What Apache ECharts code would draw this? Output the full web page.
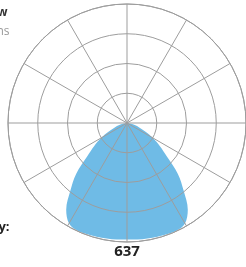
<!DOCTYPE html>
<html>
<head>
<meta charset="utf-8">
<script src="https://cdn.jsdelivr.net/npm/echarts@6/dist/echarts.min.js"></script>
<style>html,body{margin:0;padding:0;background:#fff;}#c{width:246px;height:267px;}</style>
</head>
<body>
<div id="c"></div>
<script>
// Angles (degrees from straight down) and intensity (cd)
const angles = [0, 5, 10, 15, 20, 25, 30, 35, 40, 45, 50, 55, 60, 65, 70, 75, 80, 85, 90];
const intensity = [627, 629, 631, 633, 636, 637, 624, 570, 473, 387, 280, 215, 161, 108, 70, 43, 22, 8, 0];
const peakLabel = '637';
const titleText = 'View';
const unitText = 'Lumens';
const intensityText = 'Intensity:';

const data = [];
for (let i = angles.length - 1; i >= 0; i--) data.push([intensity[i], -angles[i]]);
for (let i = 1; i < angles.length; i++) data.push([intensity[i], angles[i]]);

const chart = echarts.init(document.getElementById('c'), null, {renderer: 'canvas'});
const grid = '#9d9d9d';
chart.setOption({
  animation: false,
  polar: {center: [127, 123], radius: 119},
  angleAxis: {
    type: 'value', min: -180, max: 180, interval: 30, startAngle: 90, z: 10,
    axisLine: {show: true, lineStyle: {color: grid, width: 1}},
    axisTick: {show: false}, axisLabel: {show: false},
    splitLine: {show: true, lineStyle: {color: grid, width: 1}}
  },
  radiusAxis: {
    type: 'value', min: 0, max: 640, interval: 160, z: 10,
    axisLine: {show: false}, axisTick: {show: false}, axisLabel: {show: false},
    splitLine: {show: true, lineStyle: {color: grid, width: 1}}
  },
  series: [{
    type: 'line', coordinateSystem: 'polar', data: data, smooth: 0.35,
    showSymbol: false, lineStyle: {width: 0, color: '#6fbbe6'},
    areaStyle: {color: '#6fbbe6', opacity: 1}, z: 2
  }],
  graphic: [
    {type: 'text', x: 127, y: 252, style: {text: peakLabel, font: 'bold 15px "Open Sans"', fill: '#222', align: 'center', verticalAlign: 'middle'}},
    {type: 'text', x: 7.5, y: 6.5, style: {text: titleText, font: 'bold 12px "Open Sans"', fill: '#333', align: 'right', verticalAlign: 'alphabetic'}},
    {type: 'text', x: 9.5, y: 26, style: {text: unitText, font: '12px "Open Sans"', fill: '#999', align: 'right', verticalAlign: 'alphabetic'}},
    {type: 'text', x: 9.5, y: 221, style: {text: intensityText, font: 'bold 13px "Open Sans"', fill: '#222', align: 'right', verticalAlign: 'alphabetic'}}
  ]
});
</script>
</body>
</html>
